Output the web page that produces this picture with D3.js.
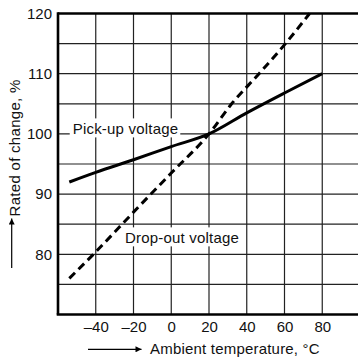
<!DOCTYPE html>
<html><head><meta charset="utf-8">
<script src="https://cdn.jsdelivr.net/npm/d3@7"></script>
<style>
html,body{margin:0;padding:0;background:#fff;}
text{font-family:"Liberation Sans",Arial,Helvetica,sans-serif;fill:#111;}
</style></head>
<body>
<svg id="c" width="358" height="363"></svg>
<script>
const xTicks = [-40, -20, 0, 20, 40, 60, 80];
const yTicks = [80, 90, 100, 110, 120];
const yGrid = [75, 80, 85, 90, 95, 100, 105, 110, 115];
const xGrid = [-40, -20, 0, 20, 40, 60, 80];
const pickupTemp = [-54, -40, -20, 0, 20, 40, 60, 80];
const pickupVal = [92, 93.6, 95.7, 97.9, 100, 103.5, 106.8, 110];
const dropTemp = [-54, -40, -20, 0, 20, 32, 46.5, 60.5, 73.3];
const dropVal = [76, 80.4, 87, 93.5, 100, 105, 110, 115, 120];
const labels = ["Pick-up voltage", "Drop-out voltage"];
const labelPos = [[-52.2, 100], [-24.5, 81.9]];
const xTitle = "Ambient temperature, °C";
const yTitle = "Rated of change, %";

const svg = d3.select("#c");
const x = d3.scaleLinear().domain([-60, 100]).range([58, 360]);
const y = d3.scaleLinear().domain([70, 120]).range([314.5, 13.5]);

// grid
svg.append("g").selectAll("line").data(yGrid).join("line")
  .attr("x1", x(-60)).attr("x2", 358).attr("y1", d => y(d)).attr("y2", d => y(d))
  .attr("stroke", "#222").attr("stroke-width", 1.2);
svg.append("g").selectAll("line").data(xGrid).join("line")
  .attr("x1", d => x(d)).attr("x2", d => x(d)).attr("y1", y(120)).attr("y2", y(70))
  .attr("stroke", "#222").attr("stroke-width", 1.2);

// label backgrounds + labels
const lg = svg.append("g");
labels.forEach((t, i) => {
  const tx = lg.append("text").attr("x", x(labelPos[i][0])).attr("y", y(labelPos[i][1]))
    .attr("font-size", 15).attr("letter-spacing", 0.2).text(t);
  const b = tx.node().getBBox();
  lg.insert("rect", "text").attr("x", b.x - 3).attr("y", b.y - 1.5)
    .attr("width", b.width + 5).attr("height", b.height + 2).attr("fill", "#fff");
});

// lines
const line = d3.line().x(d => x(d[0])).y(d => y(d[1])).curve(d3.curveMonotoneX);
svg.append("path").datum(pickupTemp.map((t, i) => [t, pickupVal[i]]))
  .attr("d", line).attr("fill", "none").attr("stroke", "#000").attr("stroke-width", 3);
svg.append("path").datum(dropTemp.map((t, i) => [t, dropVal[i]]))
  .attr("d", line).attr("fill", "none").attr("stroke", "#000").attr("stroke-width", 3)
  .attr("stroke-dasharray", "8,5");

// axes frame
svg.append("line").attr("x1", x(-60)).attr("x2", 358).attr("y1", y(120)).attr("y2", y(120))
  .attr("stroke", "#000").attr("stroke-width", 2.6);
svg.append("line").attr("x1", x(-60) - 1.3).attr("x2", 358).attr("y1", y(70)).attr("y2", y(70))
  .attr("stroke", "#000").attr("stroke-width", 2.6);
svg.append("line").attr("x1", x(-60)).attr("x2", x(-60)).attr("y1", y(120) - 1.3).attr("y2", y(70))
  .attr("stroke", "#000").attr("stroke-width", 2.6);

// tick labels
const yAxis = d3.axisLeft(y).tickValues(yTicks).tickSize(0).tickPadding(6);
const ya = svg.append("g").attr("transform", `translate(${x(-60)},0)`).call(yAxis);
ya.select(".domain").remove();
ya.selectAll("text").attr("font-size", 15).attr("font-family", '"Liberation Sans",Arial,sans-serif').attr("fill", "#111");

const xAxis = d3.axisBottom(x).tickValues(xTicks).tickSize(0).tickPadding(7)
  .tickFormat(d => d < 0 ? "\u2013" + Math.abs(d) : String(d));
const xa = svg.append("g").attr("transform", `translate(0,${y(70)})`).call(xAxis);
xa.select(".domain").remove();
xa.selectAll("text").attr("font-size", 15).attr("font-family", '"Liberation Sans",Arial,sans-serif').attr("fill", "#111");

// arrow marker
svg.append("defs").append("marker").attr("id", "ah").attr("viewBox", "0 0 10 10")
  .attr("refX", 10).attr("refY", 5).attr("markerWidth", 11).attr("markerHeight", 6)
  .attr("markerUnits", "userSpaceOnUse").attr("orient", "auto")
  .append("path").attr("d", "M0,0 L10,5 L0,10 Z").attr("fill", "#000");

// x title
svg.append("line").attr("x1", 88).attr("x2", 141.5).attr("y1", 349.3).attr("y2", 349.3)
  .attr("stroke", "#000").attr("stroke-width", 1.2).attr("marker-end", "url(#ah)");
svg.append("text").attr("x", 150).attr("y", 354).attr("font-size", 15).attr("letter-spacing", 0.2).text(xTitle);

// y title
svg.append("line").attr("x1", 11.7).attr("x2", 11.7).attr("y1", 268).attr("y2", 218.5)
  .attr("stroke", "#000").attr("stroke-width", 1.2).attr("marker-end", "url(#ah)");
svg.append("text").attr("transform", "translate(20,216.5) rotate(-90)")
  .attr("font-size", 15).attr("letter-spacing", 0.3).text(yTitle);
</script>
</body></html>
